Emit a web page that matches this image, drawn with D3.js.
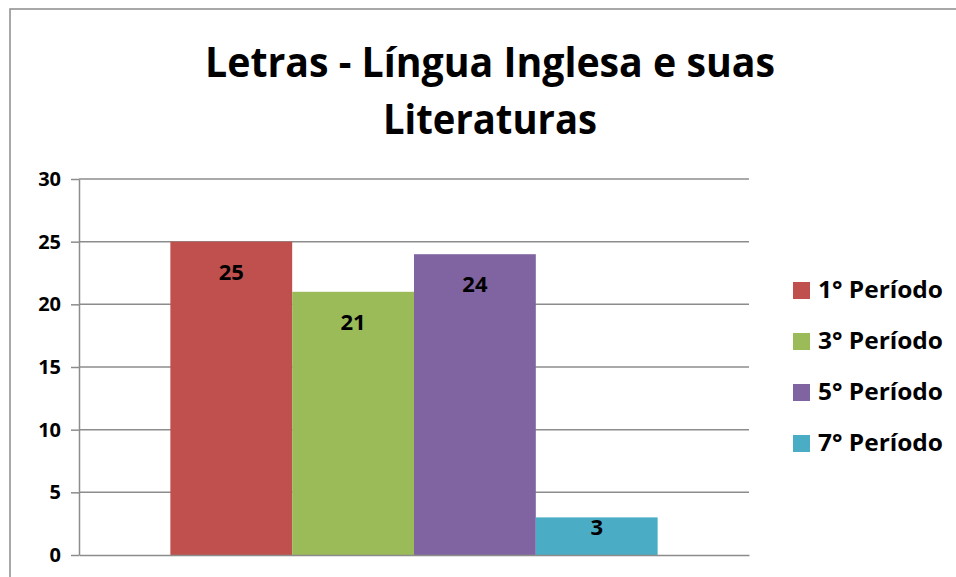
<!DOCTYPE html>
<html lang="pt">
<head>
    <meta charset="UTF-8">
    <title>Letras - Língua Inglesa e suas Literaturas</title>
    <script src="https://d3js.org/d3.v7.min.js"></script>
    <style>
        body {
            margin: 0;
            background: #ffffff;
            font-family: "Open Sans", "Liberation Sans", sans-serif;
        }
        svg text {
            font-weight: bold;
            fill: #000;
        }
        .grid line, .axis line, .axis path {
            stroke: #8c8c8c;
            stroke-width: 1.5;
        }
    </style>
</head>
<body>
    <div id="chart"></div>
    <script>
        // chart data
        const titleLines = ["Letras - Língua Inglesa e suas", "Literaturas"];
        const series = ["1° Período", "3° Período", "5° Período", "7° Período"];
        const values = [25, 21, 24, 3];
        const colors = ["#c0504d", "#9bbb59", "#8064a2", "#4bacc6"];
        const yTicks = [0, 5, 10, 15, 20, 25, 30];
        const groups = [""];

        const W = 956, H = 577;
        const plot = { left: 79, right: 749, top: 179, bottom: 555 };

        const svg = d3.select("#chart")
            .append("svg")
            .attr("width", W)
            .attr("height", H);

        // outer chart border (runs off the right / bottom edge)
        svg.append("rect")
            .attr("x", 10)
            .attr("y", 9)
            .attr("width", W + 20)
            .attr("height", H + 20)
            .attr("fill", "none")
            .attr("stroke", "#8c8c8c")
            .attr("stroke-width", 1.5);

        // title
        svg.append("text")
            .attr("x", 490).attr("y", 77)
            .attr("text-anchor", "middle")
            .attr("textLength", 570)
            .attr("lengthAdjust", "spacingAndGlyphs")
            .style("font-size", "41px")
            .text(titleLines[0]);
        svg.append("text")
            .attr("x", 490).attr("y", 134)
            .attr("text-anchor", "middle")
            .attr("textLength", 214)
            .attr("lengthAdjust", "spacingAndGlyphs")
            .style("font-size", "41px")
            .text(titleLines[1]);

        const y = d3.scaleLinear().domain([0, 30]).range([plot.bottom, plot.top]);
        const x0 = d3.scaleBand().domain(groups).range([plot.left, plot.right])
            .paddingInner(0).paddingOuter(0.1875);
        const x1 = d3.scaleBand().domain(series).range([0, x0.bandwidth()]);

        // gridlines
        svg.append("g")
            .attr("class", "grid")
            .selectAll("line")
            .data(yTicks.filter(d => d > 0))
            .enter()
            .append("line")
            .attr("x1", plot.left)
            .attr("x2", plot.right)
            .attr("y1", d => y(d))
            .attr("y2", d => y(d));

        // bars
        const g = svg.append("g")
            .attr("transform", `translate(${x0("")},0)`);

        g.selectAll("rect")
            .data(values)
            .enter()
            .append("rect")
            .attr("x", (d, i) => x1(series[i]))
            .attr("y", d => y(d))
            .attr("width", x1.bandwidth())
            .attr("height", d => y(0) - y(d))
            .attr("fill", (d, i) => colors[i]);

        // value labels (inside end)
        g.selectAll("text.val")
            .data(values)
            .enter()
            .append("text")
            .attr("class", "val")
            .attr("x", (d, i) => x1(series[i]) + x1.bandwidth() / 2)
            .attr("y", d => Math.min(y(d) + 30, y(0) - 28))
            .attr("dy", "0.36em")
            .attr("text-anchor", "middle")
            .style("font-size", "22px")
            .text(d => d);

        // y axis
        const yAxis = svg.append("g")
            .attr("class", "axis")
            .attr("transform", `translate(${plot.left},0)`)
            .call(d3.axisLeft(y).tickValues(yTicks).tickSize(8).tickSizeOuter(0).tickPadding(10));
        yAxis.selectAll("text")
            .style("font-size", "20px")
            .style("font-family", "Open Sans, sans-serif");

        // x axis baseline
        svg.append("g")
            .attr("class", "axis")
            .attr("transform", `translate(0,${plot.bottom})`)
            .call(d3.axisBottom(x0).tickSize(0).tickSizeOuter(0))
            .selectAll("text").remove();

        // legend
        const legend = svg.append("g")
            .selectAll("g")
            .data(series)
            .enter()
            .append("g")
            .attr("transform", (d, i) => `translate(793,${290 + i * 51})`);

        legend.append("rect")
            .attr("x", 0)
            .attr("y", -8)
            .attr("width", 17)
            .attr("height", 17)
            .attr("fill", (d, i) => colors[i]);

        legend.append("text")
            .attr("x", 25)
            .attr("y", 8)
            .attr("textLength", 125)
            .attr("lengthAdjust", "spacingAndGlyphs")
            .style("font-size", "24px")
            .text(d => d);
    </script>
</body>
</html>
